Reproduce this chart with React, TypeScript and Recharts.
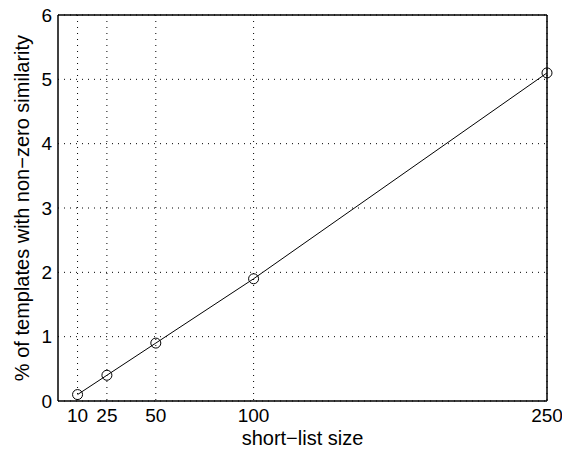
import React from 'react';
import { LineChart, Line, XAxis, YAxis, CartesianGrid, ReferenceLine } from 'recharts';

const shortListSizes = [10, 25, 50, 100, 250];
const percentNonZero = [0.1, 0.4, 0.9, 1.9, 5.1];
const xTicks = [10, 25, 50, 100, 250];
const yTicks = [0, 1, 2, 3, 4, 5, 6];

const data = shortListSizes.map((size, i) => ({ size, pct: percentNonZero[i] }));

const tickFont = { fontFamily: 'Liberation Sans, Arial, sans-serif', fontSize: 19, fill: '#000' };
const labelFont = { fontFamily: 'Liberation Sans, Arial, sans-serif', fontSize: 20, fill: '#000' };

export default function App() {
    return (
        <div style={{ margin: -8, width: 570, height: 454, background: '#fff' }}>
            <LineChart width={570} height={454} data={data} margin={{ top: 15, right: 23, bottom: 0, left: 0 }}>
                <CartesianGrid stroke="#000" strokeDasharray="1 5" strokeWidth={1} verticalValues={xTicks} />
                <XAxis
                    dataKey="size"
                    type="number"
                    domain={[0, 250]}
                    ticks={xTicks}
                    height={53}
                    tickLine={false}
                    tickSize={0}
                    axisLine={{ stroke: '#000', strokeWidth: 1.5 }}
                    tick={{ ...tickFont }}
                    tickMargin={8}
                    label={{ value: 'short−list size', position: 'insideBottom', offset: 9, style: { ...labelFont, textAnchor: 'middle' } }}
                />
                <YAxis
                    type="number"
                    domain={[0, 6]}
                    ticks={yTicks}
                    width={58}
                    tickLine={false}
                    tickSize={0}
                    axisLine={{ stroke: '#000', strokeWidth: 1.5 }}
                    tick={{ ...tickFont }}
                    tickMargin={6}
                    label={{ value: '% of templates with non−zero similarity', angle: -90, position: 'insideLeft', offset: 22, style: { ...labelFont, textAnchor: 'middle' } }}
                />
                <ReferenceLine y={6} stroke="#000" strokeWidth={1.5} />
                <ReferenceLine x={250} stroke="#000" strokeWidth={1.5} />
                <Line
                    type="linear"
                    dataKey="pct"
                    stroke="#000"
                    strokeWidth={1}
                    dot={{ r: 5, fill: 'none', stroke: '#000', strokeWidth: 1 }}
                    isAnimationActive={false}
                />
            </LineChart>
        </div>
    );
}
